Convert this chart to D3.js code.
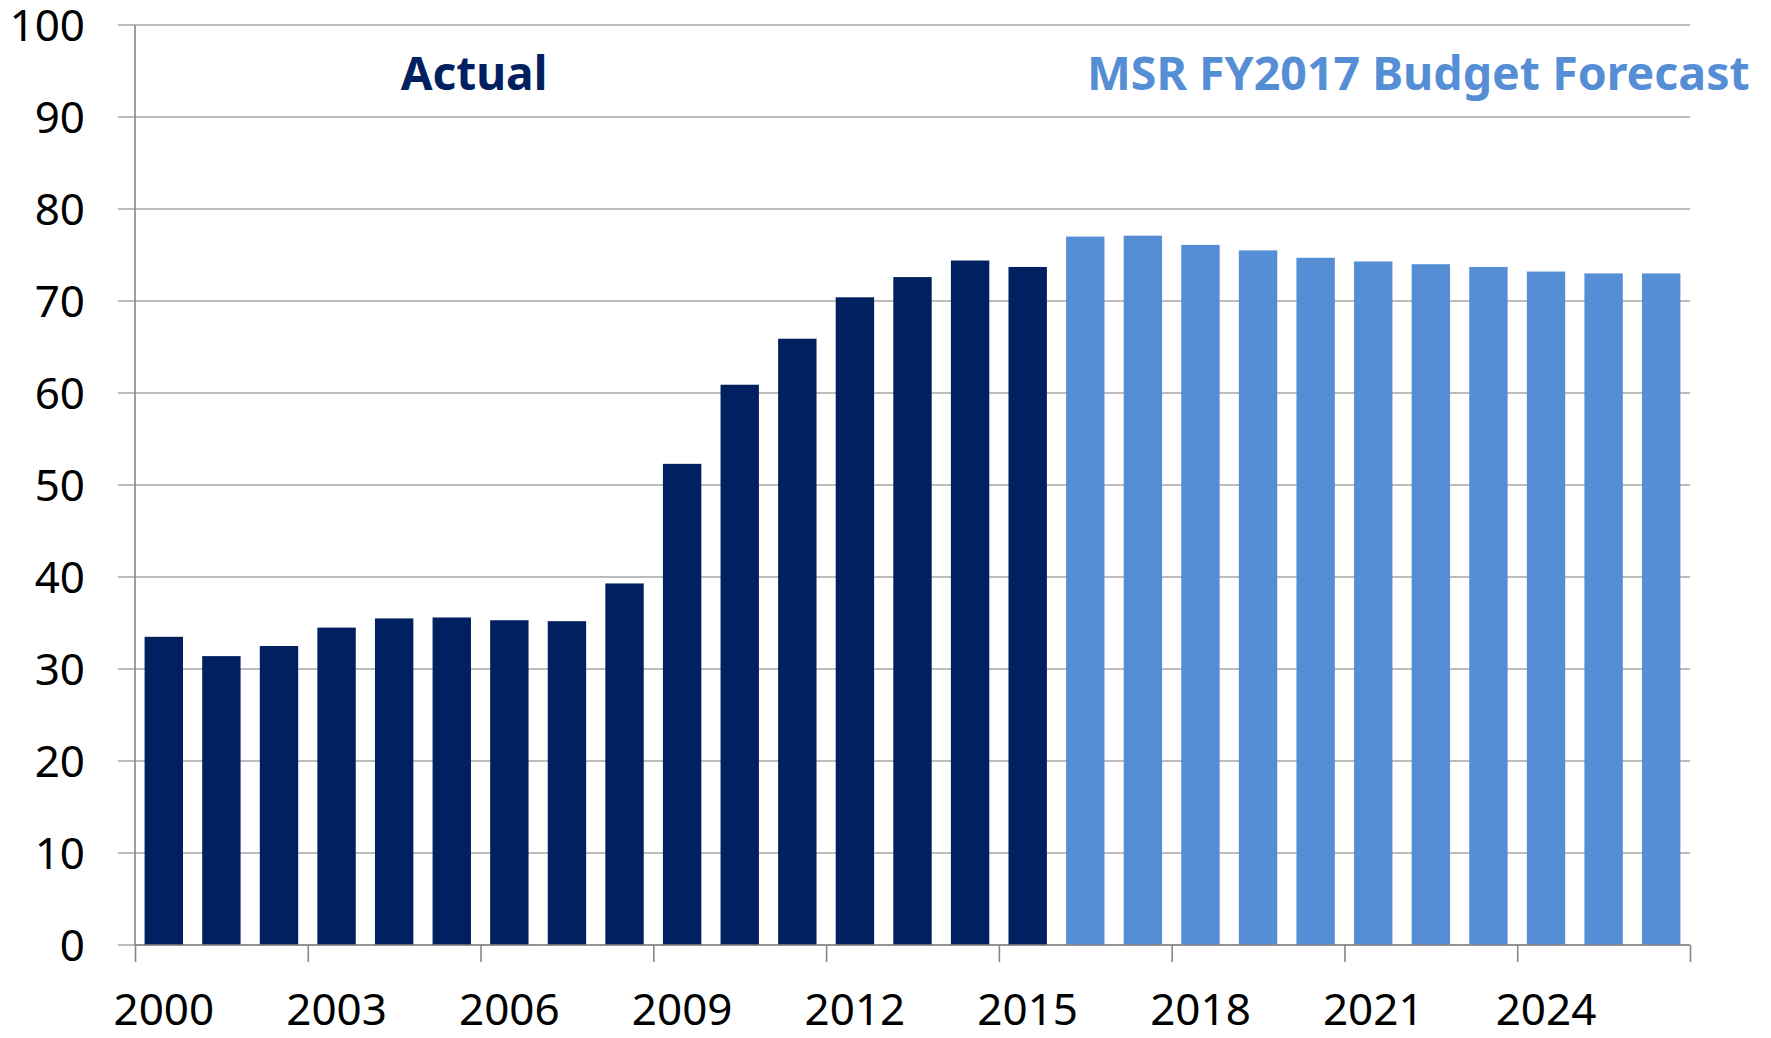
<!DOCTYPE html>
<meta charset="utf-8">
<script src="https://d3js.org/d3.v7.min.js"></script>
<style>
  body { margin: 0; background: #fff; font-family: 'Noto Sans', 'Open Sans', sans-serif; }
  .domain { display: none; }
</style>
<div id="chart"></div>
<script>
  // categories and values
  var years = [2000, 2001, 2002, 2003, 2004, 2005, 2006, 2007, 2008, 2009, 2010, 2011, 2012, 2013,
               2014, 2015, 2016, 2017, 2018, 2019, 2020, 2021, 2022, 2023, 2024, 2025, 2026];
  var actual = [33.5, 31.4, 32.5, 34.5, 35.5, 35.6, 35.3, 35.2, 39.3, 52.3, 60.9, 65.9, 70.4, 72.6, 74.4, 73.7];
  var forecast = [77.0, 77.1, 76.1, 75.5, 74.7, 74.3, 74.0, 73.7, 73.2, 73.0, 73.0];
  var yTicks = [0, 10, 20, 30, 40, 50, 60, 70, 80, 90, 100];
  var xLabelYears = [2000, 2003, 2006, 2009, 2012, 2015, 2018, 2021, 2024];

  var data = years.map(function(y, i) {
    var isActual = i < actual.length;
    return { year: y, value: isActual ? actual[i] : forecast[i - actual.length], actual: isActual };
  });

  var margin = { top: 25, right: 81, bottom: 93, left: 135 },
      width = 1771 - margin.left - margin.right,
      height = 1038 - margin.top - margin.bottom;

  var svg = d3.select("#chart").append("svg")
      .attr("width", 1771)
      .attr("height", 1038)
    .append("g")
      .attr("transform", "translate(" + margin.left + "," + margin.top + ")");

  var x = d3.scaleBand()
      .domain(years)
      .range([0, width])
      .paddingInner(1 / 3)
      .paddingOuter(1 / 6);

  var y = d3.scaleLinear()
      .domain([0, 100])
      .range([height, 0]);

  // gridlines
  svg.append("g")
    .selectAll("line")
    .data(yTicks)
    .enter().append("line")
      .attr("x1", -17)
      .attr("x2", width)
      .attr("y1", function(d) { return y(d); })
      .attr("y2", function(d) { return y(d); })
      .attr("stroke", "#a6a6a6")
      .attr("stroke-width", 1.6);

  // bars
  svg.append("g")
    .selectAll("rect")
    .data(data)
    .enter().append("rect")
      .attr("x", function(d) { return x(d.year); })
      .attr("width", x.bandwidth())
      .attr("y", function(d) { return y(d.value); })
      .attr("height", function(d) { return height - y(d.value); })
      .attr("fill", function(d) { return d.actual ? "#002060" : "#558ed5"; });

  // y axis line + labels
  svg.append("line")
      .attr("x1", 0).attr("x2", 0)
      .attr("y1", 0).attr("y2", height)
      .attr("stroke", "#868686")
      .attr("stroke-width", 1.6);

  var yAxis = svg.append("g")
      .call(d3.axisLeft(y).tickValues(yTicks).tickSize(0).tickPadding(50));
  yAxis.selectAll("text")
      .style("font-family", "'Noto Sans', sans-serif")
      .style("font-size", "44px")
      .attr("dy", "0.36em")
      .attr("fill", "#000");

  // x axis: line, boundary ticks every 3 categories, labels centred on categories
  var xEdge = d3.scaleLinear().domain([0, years.length]).range([0, width]);
  var xTickAxis = svg.append("g")
      .attr("transform", "translate(0," + height + ")")
      .call(d3.axisBottom(xEdge).tickValues(d3.range(0, years.length + 1, 3)).tickSize(17).tickFormat(""));
  xTickAxis.selectAll("line").attr("stroke", "#868686").attr("stroke-width", 1.6);
  svg.append("line")
      .attr("x1", 0).attr("x2", width)
      .attr("y1", height).attr("y2", height)
      .attr("stroke", "#868686")
      .attr("stroke-width", 1.6);

  var xAxis = svg.append("g")
      .attr("transform", "translate(0," + height + ")")
      .call(d3.axisBottom(x).tickValues(xLabelYears).tickSize(0).tickPadding(49));
  xAxis.selectAll("text")
      .style("font-family", "'Noto Sans', sans-serif")
      .style("font-size", "44px")
      .attr("fill", "#000");

  // annotations
  svg.append("text")
      .attr("x", 474 - margin.left)
      .attr("y", 90 - margin.top)
      .attr("text-anchor", "middle")
      .style("font-size", "46px")
      .style("font-weight", "bold")
      .attr("fill", "#002060")
      .text("Actual");

  svg.append("text")
      .attr("x", 1087 - margin.left)
      .attr("y", 90 - margin.top)
      .style("font-size", "46.5px")
      .style("font-weight", "bold")
      .attr("fill", "#558ed5")
      .text("MSR FY2017 Budget Forecast");
</script>
